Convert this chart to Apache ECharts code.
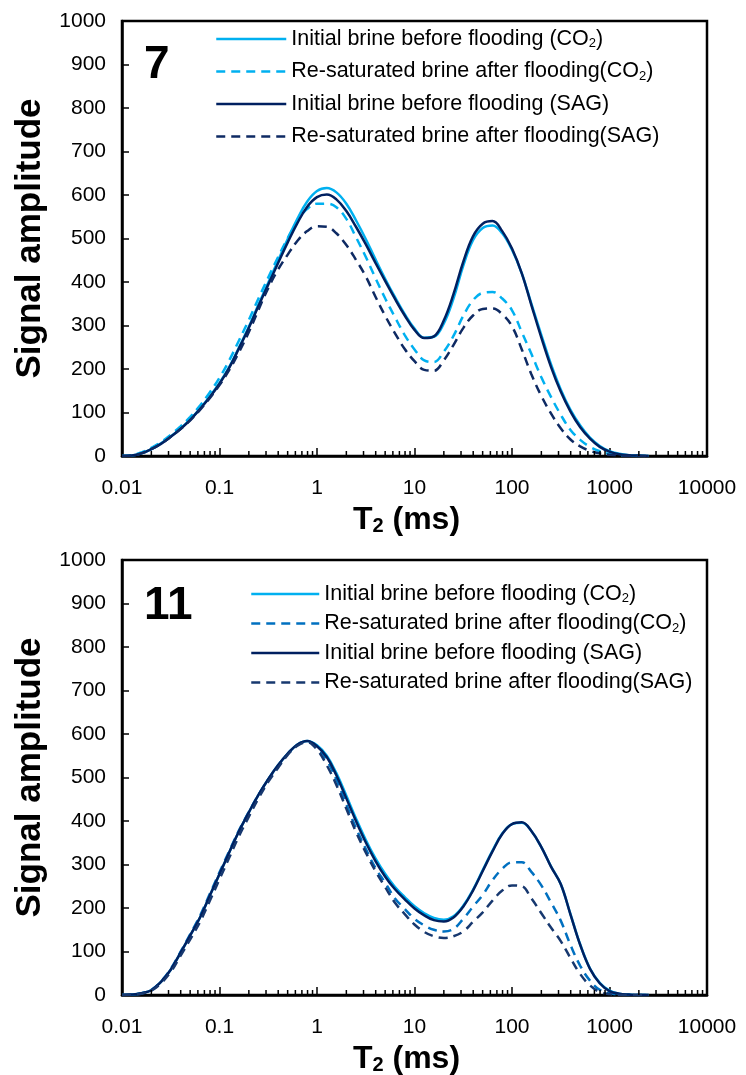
<!DOCTYPE html>
<html>
<head>
<meta charset="utf-8">
<script src="https://cdn.jsdelivr.net/npm/echarts@6/dist/echarts.min.js"></script>
<style>
  html, body { margin: 0; padding: 0; background: #fff; }
  #top, #bot { position: absolute; left: 0; width: 746px; }
  #top { top: 0; height: 537px; }
  #bot { top: 537px; height: 538px; }
</style>
</head>
<body>
<div id="top"></div>
<div id="bot"></div>
<script>
// T2 bins (ms), log-spaced, 10 per decade
const T2 = [0.01, 0.0126, 0.0158, 0.02, 0.0251, 0.0316, 0.0398, 0.0501, 0.0631, 0.0794,
  0.1, 0.126, 0.158, 0.2, 0.251, 0.316, 0.398, 0.501, 0.631, 0.794,
  1, 1.26, 1.58, 2, 2.51, 3.16, 3.98, 5.01, 6.31, 7.94,
  10, 12.6, 15.8, 20, 25.1, 31.6, 39.8, 50.1, 63.1, 79.4,
  100, 126, 158, 200, 251, 316, 398, 501, 631, 794,
  1000, 1259, 1585, 1995, 2512];

// core 7
const core7InitCO2 = [0, 1, 6, 16, 29, 45, 63, 84, 109, 137,
  168, 205, 249, 297, 348, 398, 449, 499, 546, 585,
  609, 616, 606, 580, 542, 499, 452, 407, 365, 326,
  293, 272, 274, 305, 362, 437, 496, 524, 530, 512,
  474, 420, 350, 278, 211, 153, 106, 70, 42, 23,
  11, 5, 2, 1, 0];
const core7ResatCO2 = [0, 2, 8, 19, 32, 49, 68, 90, 116, 146,
  180, 220, 265, 313, 362, 410, 457, 501, 540, 568,
  580, 580, 572, 545, 503, 458, 409, 362, 319, 278,
  245, 220, 216, 240, 276, 322, 358, 375, 377, 362,
  335, 285, 235, 181, 136, 95, 60, 37, 21, 11,
  5, 2, 1, 0, 0];
const core7InitSAG = [0, 1, 6, 16, 28, 44, 62, 83, 108, 135,
  166, 203, 247, 295, 345, 394, 443, 491, 536, 573,
  595, 601, 590, 563, 527, 487, 444, 402, 361, 323,
  290, 271, 275, 312, 372, 446, 505, 534, 540, 517,
  477, 420, 347, 272, 205, 148, 102, 66, 40, 21,
  10, 4, 2, 1, 0];
const core7ResatSAG = [0, 1, 6, 16, 28, 44, 62, 82, 106, 133,
  163, 198, 238, 285, 336, 386, 428, 463, 495, 517,
  528, 527, 512, 485, 451, 413, 366, 322, 282, 246,
  218, 198, 196, 220, 255, 294, 323, 338, 339, 326,
  298, 245, 188, 138, 98, 64, 38, 22, 12, 6,
  3, 1, 0, 0, 0];

// core 11
const core11InitCO2 = [0, 1, 4, 11, 30, 58, 97, 137, 178, 228,
  278, 328, 376, 420, 460, 496, 528, 555, 576, 584,
  574, 550, 510, 458, 406, 357, 314, 278, 248, 225,
  204, 188, 177, 173, 181, 205, 242, 287, 332, 371,
  393, 396, 377, 340, 296, 255, 186, 116, 61, 28,
  10, 3, 1, 0, 0];
const core11ResatCO2 = [0, 1, 4, 12, 31, 60, 99, 140, 182, 232,
  282, 331, 378, 421, 460, 495, 526, 554, 575, 583,
  569, 540, 495, 438, 384, 336, 292, 258, 222, 198,
  175, 160, 150, 146, 152, 175, 203, 230, 264, 290,
  305, 305, 283, 252, 213, 171, 115, 67, 33, 12,
  4, 1, 0, 0, 0];
const core11InitSAG = [0, 1, 4, 11, 30, 58, 97, 137, 178, 228,
  278, 328, 376, 420, 460, 496, 528, 555, 576, 584,
  572, 547, 505, 452, 400, 351, 308, 272, 243, 220,
  199, 183, 172, 169, 178, 203, 240, 285, 330, 370,
  393, 397, 377, 340, 295, 255, 185, 115, 60, 27,
  9, 3, 1, 0, 0];
const core11ResatSAG = [0, 1, 3, 10, 27, 53, 90, 128, 168, 216,
  266, 316, 365, 410, 452, 490, 522, 552, 573, 581,
  564, 528, 483, 428, 375, 328, 285, 248, 212, 186,
  162, 145, 135, 131, 135, 146, 168, 190, 217, 240,
  252, 250, 222, 188, 155, 124, 85, 48, 22, 7,
  2, 0, 0, 0, 0];

const NAMES = [
  'Initial brine before flooding (CO2)',
  'Re-saturated brine after flooding(CO2)',
  'Initial brine before flooding (SAG)',
  'Re-saturated brine after flooding(SAG)'
];

// minor tick positions on the log axis (2..9 in each decade)
const DECADES = [0.01, 0.1, 1, 10, 100, 1000];
const MINOR_MULT = [2, 3, 4, 5, 6, 7, 8, 9];

const FONT = '"Liberation Sans", Arial, sans-serif';

function pairs(vals) {
  return T2.map((t, i) => [t, vals[i]]);
}

function buildOption(cfg) {
  const minor = [];
  DECADES.forEach(d => MINOR_MULT.forEach(m => minor.push([+(d * m).toPrecision(3), 0])));

  const lines = cfg.series.map((vals, i) => ({
    name: NAMES[i],
    type: 'line',
    data: pairs(vals),
    smooth: 0.4,
    symbol: 'none',
    lineStyle: { color: cfg.colors[i], width: 2.5, type: i % 2 ? [9, 6] : 'solid' },
    itemStyle: { color: cfg.colors[i] },
    z: 2 + i
  }));

  const lf = cfg.legendFont;
  return {
    animation: false,
    textStyle: { fontFamily: FONT, color: '#000' },
    grid: {
      left: 122, right: 39, top: cfg.top, height: 435,
      show: true, borderColor: '#000', borderWidth: 2.5,
      outerBoundsMode: 'none'
    },
    legend: {
      data: NAMES,
      orient: 'vertical',
      left: cfg.legendLeft,
      top: cfg.legendTop,
      itemWidth: cfg.legendIconW,
      itemHeight: 14,
      itemGap: cfg.legendGap,
      itemStyle: { opacity: 0 },
      lineStyle: { width: 2.5 },
      textStyle: {
        fontSize: lf, color: '#000', fontFamily: FONT,
        rich: { sub: { fontSize: Math.round(lf * 0.62), padding: [Math.round(lf * 0.42), 0, 0, 0], fontFamily: FONT } }
      },
      formatter: n => n.replace('CO2', 'CO{sub|2}')
    },
    graphic: [{
      type: 'text',
      left: cfg.labelLeft, top: cfg.labelTop,
      style: { text: cfg.label, font: 'bold 46px ' + FONT, fill: '#000' }
    }],
    xAxis: {
      type: 'log', logBase: 10, min: 0.01, max: 10000, splitNumber: 6,
      name: '{a|T}{b|2}{a| (ms)}',
      nameLocation: 'middle', nameGap: 44,
      nameTextStyle: {
        padding: [0, 16, 0, 0],
        rich: {
          a: { fontSize: 32, fontWeight: 'bold', fontFamily: FONT, color: '#000' },
          b: { fontSize: 20, fontWeight: 'bold', fontFamily: FONT, color: '#000', padding: [14, 0, 0, 0] }
        }
      },
      axisLine: { lineStyle: { color: '#000', width: 2.5 } },
      axisTick: { inside: true, length: 8, lineStyle: { color: '#000', width: 1.5 } },
      axisLabel: {
        fontSize: 21, color: '#000', margin: 22,
        formatter: v => {
          const e = Math.round(Math.log10(v));
          return e < 0 ? Math.pow(10, e).toFixed(-e) : String(Math.pow(10, e));
        }
      },
      splitLine: { show: false }
    },
    yAxis: {
      type: 'value', min: 0, max: 1000, interval: 100,
      name: 'Signal amplitude',
      nameLocation: 'middle', nameGap: 74,
      nameTextStyle: { fontSize: 35, fontWeight: 'bold', color: '#000', fontFamily: FONT },
      axisLine: { show: true, lineStyle: { color: '#000', width: 2.5 } },
      axisTick: { inside: true, length: 7, lineStyle: { color: '#000', width: 1.5 } },
      axisLabel: { fontSize: 21, color: '#000', margin: 16, formatter: v => String(v) },
      splitLine: { show: false }
    },
    series: lines.concat([{
      type: 'custom',
      silent: true,
      z: 10,
      data: minor,
      renderItem: (params, api) => {
        const p = api.coord([api.value(0), 0]);
        return {
          type: 'line',
          shape: { x1: p[0], y1: p[1], x2: p[0], y2: p[1] - 5 },
          style: { stroke: '#000', lineWidth: 1.5 }
        };
      }
    }])
  };
}

const topChart = echarts.init(document.getElementById('top'));
topChart.setOption(buildOption({
  top: 21,
  label: '7', labelLeft: 144, labelTop: 42,
  legendLeft: 210, legendTop: 23, legendGap: 10.5, legendFont: 21.5, legendIconW: 70,
  colors: ['#00B0F0', '#00B0F0', '#002060', '#0E2A63'],
  series: [core7InitCO2, core7ResatCO2, core7InitSAG, core7ResatSAG]
}));

const botChart = echarts.init(document.getElementById('bot'));
botChart.setOption(buildOption({
  top: 23,
  label: '11', labelLeft: 144, labelTop: 46,
  legendLeft: 245, legendTop: 41, legendGap: 7.5, legendFont: 21.5, legendIconW: 68,
  colors: ['#00B0F0', '#0070C0', '#002060', '#17386F'],
  series: [core11InitCO2, core11ResatCO2, core11InitSAG, core11ResatSAG]
}));
</script>
</body>
</html>
